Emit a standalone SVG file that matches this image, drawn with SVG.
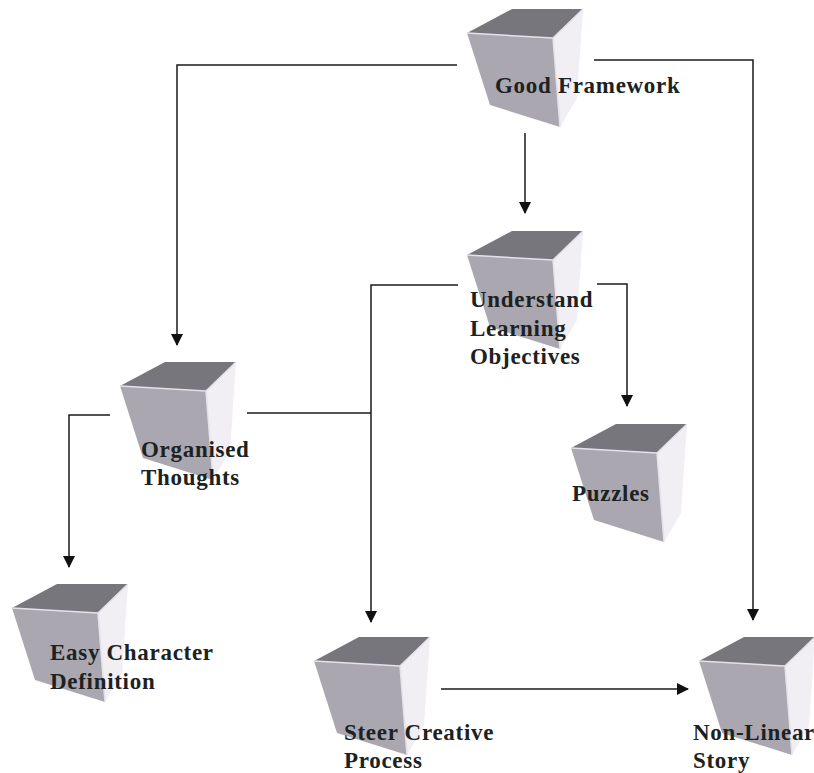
<svg xmlns="http://www.w3.org/2000/svg" width="814" height="773" viewBox="0 0 814 773">
<style>
.lbl{font-family:"Liberation Serif","Times New Roman",serif;font-weight:bold;font-size:23px;letter-spacing:.7px;fill:#1c2222}
.c{fill:none;stroke:#1a1a1a;stroke-width:1.5}
.top{fill:#77767c}.left{fill:#aba7b1}.right{fill:#f1eef4}.edge{fill:none;stroke:#e4e2e8;stroke-width:1.5}
</style>
<defs>
<marker id="a" viewBox="0 0 12 12" refX="11" refY="6" markerWidth="12" markerHeight="12" markerUnits="userSpaceOnUse" orient="auto"><path d="M0 0L12 6L0 12Z" fill="#111"/></marker>
<g id="cube">
<path class="right" d="M86 29L116 0L110 89L93 118Z"/>
<path class="top" d="M0 24L45 0L116 0L86 29Z"/>
<path class="left" d="M0 24L86 29L93 118L23 96Z"/>
<path class="edge" d="M0 24L86 29L116 0M86 29L93 118"/>
</g>
</defs>
<g id="connectors">
<path class="c" marker-end="url(#a)" d="M457 65H177V345"/>
<path class="c" marker-end="url(#a)" d="M594 60H753V620"/>
<path class="c" marker-end="url(#a)" d="M525 133V213"/>
<path class="c" marker-end="url(#a)" d="M458 285H371V622"/>
<path class="c" marker-end="url(#a)" d="M597 284H627V406"/>
<path class="c" d="M247 413H371"/>
<path class="c" marker-end="url(#a)" d="M110 415H69V567"/>
<path class="c" marker-end="url(#a)" d="M441 689H688"/>
</g>
<g id="good-framework"><use href="#cube" x="467" y="9"/><text class="lbl" x="495" y="93">Good Framework</text></g>
<g id="understand"><use href="#cube" x="467" y="231"/><text class="lbl"><tspan x="470" y="307">Understand</tspan><tspan x="470" y="336">Learning</tspan><tspan x="470" y="364">Objectives</tspan></text></g>
<g id="organised"><use href="#cube" x="120" y="362"/><text class="lbl"><tspan x="141" y="457">Organised</tspan><tspan x="141" y="485">Thoughts</tspan></text></g>
<g id="puzzles"><use href="#cube" x="571" y="424"/><text class="lbl" x="572" y="501">Puzzles</text></g>
<g id="easy"><use href="#cube" x="12" y="584"/><text class="lbl"><tspan x="50" y="660">Easy Character</tspan><tspan x="50" y="689">Definition</tspan></text></g>
<g id="steer"><use href="#cube" x="314" y="637"/><text class="lbl"><tspan x="344" y="740">Steer Creative</tspan><tspan x="344" y="768">Process</tspan></text></g>
<g id="nonlinear"><use href="#cube" x="699" y="637"/><text class="lbl"><tspan x="693" y="740">Non-Linear</tspan><tspan x="693" y="768">Story</tspan></text></g>
</svg>
